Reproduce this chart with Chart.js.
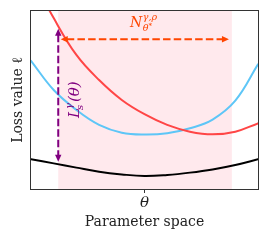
<!DOCTYPE html>
<html><head><meta charset="utf-8">
<script src="https://cdn.jsdelivr.net/npm/chart.js@4"></script>
<style>html,body{margin:0;padding:0;background:#fff;overflow:hidden}canvas{display:block}</style>
</head><body>
<canvas id="c" width="270" height="243"></canvas>
<script>
// ---- data ----
const paramPositions = [0, 0.1, 0.2, 0.3, 0.4, 0.5, 0.6, 0.7, 0.8, 0.9, 1.0];
const redLoss   = [1.2, 0.96, 0.753, 0.612, 0.5, 0.42, 0.36, 0.322, 0.307, 0.322, 0.369];
const blueLoss  = [0.72, 0.556, 0.444, 0.36, 0.316, 0.306, 0.313, 0.341, 0.39, 0.496, 0.70];
const blackLoss = [0.167, 0.144, 0.12, 0.097, 0.082, 0.073, 0.079, 0.092, 0.11, 0.135, 0.167];
const tickValues = [0.5];
const tickLabels = ['θ'];
const xTitle = 'Parameter space';
const yTitle = 'Loss value ℓ';
const neighborhoodSpan = [0.12, 0.885];
const gapArrowX = 0.12;
const gapArrowY = [0.153, 0.9];
const neighArrowY = 0.841;
const neighArrowX = [0.131, 0.872];

const SERIF = '"DejaVu Serif", "Liberation Serif", serif';
const RED = '#ff4646', BLUE = '#5ec6f7', PURPLE = '#800080', ORANGE = '#ff4500';

function pts(vals) { return paramPositions.map((p, i) => ({x: p, y: vals[i]})); }

function head(ctx, tx, ty, ang, L, W) {
  const c = Math.cos(ang), s = Math.sin(ang);
  ctx.beginPath();
  ctx.moveTo(tx, ty);
  ctx.lineTo(tx - L * c - W * s, ty - L * s + W * c);
  ctx.lineTo(tx - L * c + W * s, ty - L * s - W * c);
  ctx.closePath();
  ctx.fill();
}
function arrow(ctx, x0, y0, x1, y1, color, dash) {
  const ang = Math.atan2(y1 - y0, x1 - x0), L = 7, W = 3.2;
  const dx = Math.cos(ang), dy = Math.sin(ang);
  ctx.save();
  ctx.strokeStyle = color; ctx.fillStyle = color; ctx.lineWidth = 2;
  ctx.setLineDash(dash);
  ctx.beginPath();
  ctx.moveTo(x0 + dx * (L - 1), y0 + dy * (L - 1));
  ctx.lineTo(x1 - dx * (L - 1), y1 - dy * (L - 1));
  ctx.stroke();
  ctx.setLineDash([]);
  head(ctx, x1, y1, ang, L, W);
  head(ctx, x0, y0, ang + Math.PI, L, W);
  ctx.restore();
}

const decor = {
  id: 'decor',
  beforeDatasetsDraw(chart) {
    const {ctx, chartArea: a, scales: {x}} = chart;
    const x0 = x.getPixelForValue(neighborhoodSpan[0]);
    const x1 = x.getPixelForValue(neighborhoodSpan[1]);
    ctx.save();
    ctx.fillStyle = 'rgba(255,192,203,0.35)';
    ctx.fillRect(x0, a.top, x1 - x0, a.bottom - a.top);
    ctx.restore();
  },
  afterDatasetsDraw(chart) {
    const {ctx, scales: {x, y}} = chart;
    const px = x.getPixelForValue(gapArrowX);
    arrow(ctx, px, y.getPixelForValue(gapArrowY[1]), px, y.getPixelForValue(gapArrowY[0]), PURPLE, [7.5, 3]);
    const py = y.getPixelForValue(neighArrowY);
    arrow(ctx, x.getPixelForValue(neighArrowX[0]), py, x.getPixelForValue(neighArrowX[1]), py, ORANGE, [7.5, 3.2]);

    // N label
    ctx.save();
    ctx.fillStyle = ORANGE;
    ctx.textBaseline = 'alphabetic';
    ctx.textAlign = 'left';
    ctx.font = 'italic 14px ' + SERIF;
    ctx.fillText('N', 130, 27);
    const nw = ctx.measureText('N').width;
    ctx.font = 'italic 9.5px ' + SERIF;
    ctx.fillText('γ,ρ', 130 + nw + 0.5, 20);
    ctx.fillText('θ', 130 + nw + 0.5, 31);
    const tw = ctx.measureText('θ').width;
    ctx.font = '7px ' + SERIF;
    ctx.fillText('*', 130 + nw + 0.5 + tw, 28);
    ctx.restore();

    // rotated L label
    ctx.save();
    ctx.fillStyle = PURPLE;
    ctx.translate(79, 118);
    ctx.rotate(-Math.PI / 2);
    ctx.textBaseline = 'alphabetic';
    ctx.textAlign = 'left';
    ctx.font = 'italic 15px ' + SERIF;
    ctx.fillText('L', 0, 0);
    const lw = ctx.measureText('L').width;
    ctx.font = 'italic 10px ' + SERIF;
    ctx.fillText('γ', lw - 1, -7);
    ctx.fillText('s', lw - 2, 4);
    const gw = ctx.measureText('γ').width;
    ctx.font = 'italic 15px ' + SERIF;
    ctx.fillText('(θ)', lw + gw, 0);
    ctx.restore();
  },
  afterDraw(chart) {
    const {ctx, chartArea: a} = chart;
    ctx.save();
    ctx.strokeStyle = '#333';
    ctx.lineWidth = 1;
    ctx.strokeRect(a.left - 0.5, a.top - 0.5, a.right - a.left + 1, a.bottom - a.top + 1);
    ctx.restore();
  }
};

new Chart(document.getElementById('c'), {
  type: 'line',
  data: {
    datasets: [
      {data: pts(redLoss), borderColor: RED, borderWidth: 2},
      {data: pts(blueLoss), borderColor: BLUE, borderWidth: 2},
      {data: pts(blackLoss), borderColor: '#000', borderWidth: 2}
    ]
  },
  options: {
    responsive: false,
    animation: false,
    devicePixelRatio: 1,
    layout: {padding: {left: 0, right: 12, top: 11, bottom: 0}},
    elements: {point: {radius: 0}, line: {tension: 0.4, fill: false, borderCapStyle: 'round'}},
    datasets: {line: {clip: 0}},
    plugins: {legend: {display: false}, tooltip: {enabled: false}},
    scales: {
      x: {
        type: 'linear', min: 0, max: 1,
        afterBuildTicks: s => { s.ticks = tickValues.map(v => ({value: v})); },
        afterFit: s => { s.height = 54; },
        grid: {display: true, drawOnChartArea: false, drawTicks: true, tickLength: 4, color: '#333', lineWidth: 1},
        border: {display: false},
        ticks: {
          autoSkip: false, maxRotation: 0, padding: 1, color: '#222',
          font: {family: SERIF, style: 'italic', size: 15},
          callback: (v) => { const i = tickValues.indexOf(v); return i >= 0 ? tickLabels[i] : ''; }
        },
        title: {display: true, text: xTitle, color: '#222', font: {family: SERIF, size: 14}, padding: {top: 0, bottom: 12.6}}
      },
      y: {
        type: 'linear', min: 0, max: 1,
        afterFit: s => { s.width = 31; },
        grid: {display: false},
        border: {display: false},
        ticks: {display: false},
        title: {display: true, text: yTitle, color: '#222', font: {family: SERIF, size: 14}, padding: {top: 9.6, bottom: 0}}
      }
    }
  },
  plugins: [decor]
});
</script>
</body></html>
